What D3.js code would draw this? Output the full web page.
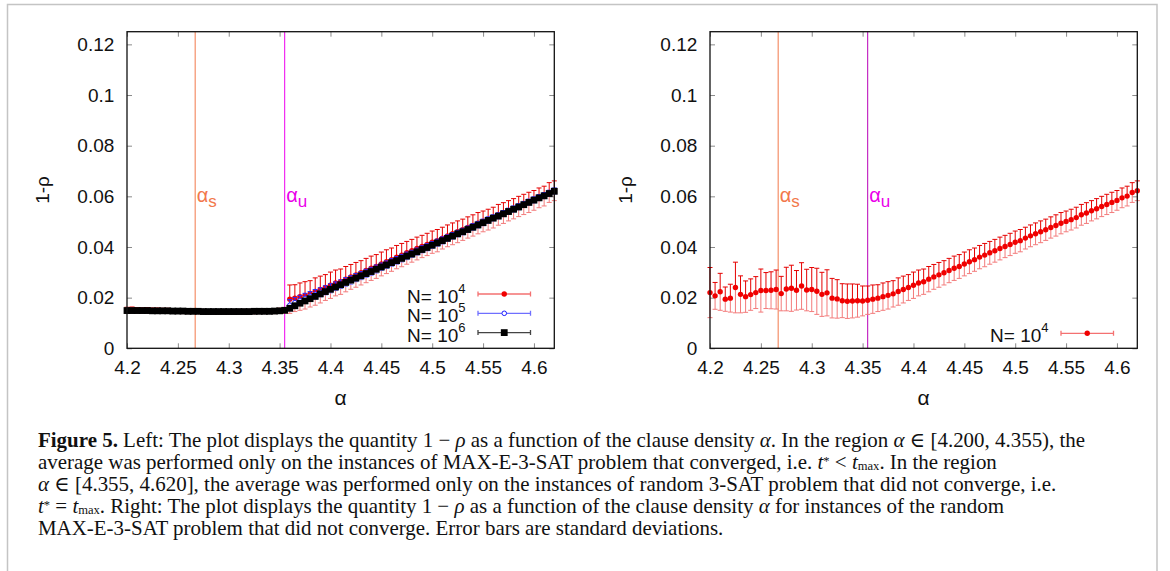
<!DOCTYPE html>
<html>
<head>
<meta charset="utf-8">
<script src="https://cdn.jsdelivr.net/npm/d3@7"></script>
<style>
  body { margin: 0; background: #fff; }
  #wrap { position: relative; width: 1170px; height: 571px; overflow: hidden; }
  svg { position: absolute; left: 0; top: 0; }
  #caption {
    position: absolute; left: 38px; top: 429px;
    font-family: "Liberation Serif", "DejaVu Serif", serif;
    font-size: 17.5px; line-height: 22px; color: #111; white-space: nowrap;
  }
  #caption > div { height: 22px; }
  #caption sup, #caption sub { font-size: 0.6em; line-height: 1; vertical-align: baseline; position: relative; }
  #caption sup { top: -0.3em; }
  #caption sub { top: 0.05em; }
</style>
</head>
<body>
<div id="wrap">
<svg id="chart" width="1170" height="571"></svg>
<div id="caption">
  <div id="cap1"><b>Figure 5.</b> Left: The plot displays the quantity 1 − <i>ρ</i> as a function of the clause density <i>α</i>. In the region <i>α</i> ∈ [4.200, 4.355), the</div>
  <div>average was performed only on the instances of MAX-E-3-SAT problem that converged, i.e. <i>t</i><sup>*</sup> &lt; <i>t</i><sub>max</sub>. In the region</div>
  <div><i>α</i> ∈ [4.355, 4.620], the average was performed only on the instances of random 3-SAT problem that did not converge, i.e.</div>
  <div><i>t</i><sup>*</sup> = <i>t</i><sub>max</sub>. Right: The plot displays the quantity 1 − <i>ρ</i> as a function of the clause density <i>α</i> for instances of the random</div>
  <div>MAX-E-3-SAT problem that did not converge. Error bars are standard deviations.</div>
</div>
</div>
<script>
// clause density grid, step 0.005 from 4.200 to 4.620
const alphaGrid = d3.range(0, 85).map(i => +(4.2 + i * 0.005).toFixed(3));
const alphaS = 4.267;
const alphaU = 4.355;

const xTicks = [4.2, 4.25, 4.3, 4.35, 4.4, 4.45, 4.5, 4.55, 4.6];
const yTicks = [0, 0.02, 0.04, 0.06, 0.08, 0.1, 0.12];

// N=10^4, instances that did not converge (right panel, 4.200 .. 4.620)
const rhoN4NC = [
  0.0220, 0.0207, 0.0223, 0.0194, 0.0198, 0.0240, 0.0213, 0.0204, 0.0212, 0.0220,
  0.0228, 0.0228, 0.0229, 0.0232, 0.0216, 0.0234, 0.0237, 0.0229, 0.0246, 0.0230,
  0.0232, 0.0225, 0.0213, 0.0219, 0.0198, 0.0195, 0.0188, 0.0186, 0.0187, 0.0188,
  0.0187, 0.0190, 0.0194, 0.0198, 0.0204, 0.0209, 0.0215, 0.0224, 0.0232, 0.0240,
  0.0249, 0.0258, 0.0263, 0.0273, 0.0282, 0.0290, 0.0298, 0.0307, 0.0316, 0.0323,
  0.0333, 0.0342, 0.0350, 0.0360, 0.0368, 0.0377, 0.0385, 0.0394, 0.0402, 0.0410,
  0.0419, 0.0425, 0.0435, 0.0444, 0.0452, 0.0460, 0.0468, 0.0477, 0.0485, 0.0494,
  0.0501, 0.0508, 0.0516, 0.0527, 0.0534, 0.0543, 0.0551, 0.0560, 0.0568, 0.0576,
  0.0584, 0.0594, 0.0601, 0.0615, 0.0622
];
const errN4NC = [
  0.0099, 0.0053, 0.0073, 0.0048, 0.0055, 0.0100, 0.0073, 0.0062, 0.0062, 0.0063,
  0.0085, 0.0071, 0.0073, 0.0077, 0.0068, 0.0086, 0.0091, 0.0078, 0.0092, 0.0082,
  0.0087, 0.0091, 0.0087, 0.0091, 0.0078, 0.0076, 0.0067, 0.0068, 0.0067, 0.0065,
  0.0059, 0.0056, 0.0056, 0.0053, 0.0054, 0.0054, 0.0052, 0.0054, 0.0053, 0.0051,
  0.0052, 0.0051, 0.0050, 0.0050, 0.0049, 0.0049, 0.0048, 0.0048, 0.0048, 0.0047,
  0.0047, 0.0047, 0.0046, 0.0046, 0.0046, 0.0045, 0.0045, 0.0045, 0.0044, 0.0044,
  0.0044, 0.0044, 0.0043, 0.0043, 0.0043, 0.0043, 0.0042, 0.0042, 0.0042, 0.0042,
  0.0041, 0.0041, 0.0041, 0.0041, 0.0041, 0.0040, 0.0040, 0.0040, 0.0040, 0.0040,
  0.0039, 0.0039, 0.0039, 0.0039, 0.0039
];

// left panel, converged instances (4.200 .. 4.355)
const rhoN4Conv = [
  0.0150, 0.0151, 0.0150, 0.0149, 0.0150, 0.0149, 0.0149, 0.0148, 0.0148, 0.0147,
  0.0147, 0.0146, 0.0146, 0.0146, 0.0145, 0.0145, 0.0144, 0.0144, 0.0144, 0.0144,
  0.0144, 0.0144, 0.0145, 0.0145, 0.0145, 0.0145, 0.0146, 0.0146, 0.0147, 0.0147,
  0.0148, 0.0150
];
const errN4Conv = [
  0.0012, 0.0012, 0.0011, 0.0011, 0.0011, 0.0010, 0.0010, 0.0010, 0.0010, 0.0009,
  0.0009, 0.0009, 0.0009, 0.0009, 0.0008, 0.0008, 0.0008, 0.0008, 0.0008, 0.0008,
  0.0008, 0.0008, 0.0008, 0.0008, 0.0008, 0.0008, 0.0009, 0.0009, 0.0009, 0.0010,
  0.0010, 0.0011
];
const rhoN5Conv = [
  0.0149, 0.0149, 0.0149, 0.0149, 0.0149, 0.0148, 0.0148, 0.0148, 0.0148, 0.0147,
  0.0147, 0.0147, 0.0146, 0.0146, 0.0146, 0.0145, 0.0145, 0.0145, 0.0145, 0.0145,
  0.0145, 0.0145, 0.0145, 0.0145, 0.0145, 0.0146, 0.0146, 0.0146, 0.0146, 0.0147,
  0.0148, 0.0150
];
const errN5Conv = [
  0.0004, 0.0004, 0.0004, 0.0004, 0.0004, 0.0004, 0.0004, 0.0004, 0.0004, 0.0004,
  0.0003, 0.0003, 0.0003, 0.0003, 0.0003, 0.0003, 0.0003, 0.0003, 0.0003, 0.0003,
  0.0003, 0.0003, 0.0003, 0.0003, 0.0003, 0.0003, 0.0003, 0.0003, 0.0004, 0.0004,
  0.0004, 0.0005
];
const rhoN6Conv = [
  0.0149, 0.0149, 0.0149, 0.0149, 0.0149, 0.0148, 0.0148, 0.0148, 0.0148, 0.0147,
  0.0147, 0.0147, 0.0146, 0.0146, 0.0146, 0.0145, 0.0145, 0.0145, 0.0145, 0.0145,
  0.0145, 0.0145, 0.0145, 0.0145, 0.0145, 0.0146, 0.0146, 0.0146, 0.0146, 0.0147,
  0.0148, 0.0150
];

// left panel, instances that did not converge (4.360 .. 4.620)
const rhoN5NC = [
  0.0170, 0.0180, 0.0189, 0.0197, 0.0205, 0.0213, 0.0221, 0.0229,
  0.0237, 0.0245, 0.0253, 0.0262, 0.0270, 0.0279, 0.0287, 0.0296, 0.0304, 0.0313,
  0.0322, 0.0330, 0.0339, 0.0347, 0.0356, 0.0365, 0.0373, 0.0382, 0.0391, 0.0399,
  0.0408, 0.0417, 0.0426, 0.0435, 0.0444, 0.0453, 0.0461, 0.0470, 0.0479, 0.0488,
  0.0497, 0.0506, 0.0515, 0.0523, 0.0532, 0.0541, 0.0550, 0.0559, 0.0568, 0.0577,
  0.0586, 0.0595, 0.0603, 0.0612, 0.0621
];
const errN5NC = [
  0.0022, 0.0021, 0.0020, 0.0020, 0.0019, 0.0019, 0.0018, 0.0018,
  0.0018, 0.0017, 0.0017, 0.0017, 0.0017, 0.0016, 0.0016, 0.0016, 0.0016, 0.0016,
  0.0015, 0.0015, 0.0015, 0.0015, 0.0015, 0.0015, 0.0014, 0.0014, 0.0014, 0.0014,
  0.0014, 0.0014, 0.0014, 0.0013, 0.0013, 0.0013, 0.0013, 0.0013, 0.0013, 0.0013,
  0.0013, 0.0013, 0.0012, 0.0012, 0.0012, 0.0012, 0.0012, 0.0012, 0.0012, 0.0012,
  0.0012, 0.0012, 0.0012, 0.0012, 0.0012
];
const rhoN6NC = [
  0.0158, 0.0168, 0.0178, 0.0187, 0.0196, 0.0205, 0.0215, 0.0224,
  0.0233, 0.0242, 0.0251, 0.0260, 0.0269, 0.0277, 0.0286, 0.0295, 0.0303, 0.0312,
  0.0321, 0.0329, 0.0338, 0.0346, 0.0355, 0.0364, 0.0372, 0.0381, 0.0390, 0.0398,
  0.0407, 0.0416, 0.0425, 0.0434, 0.0443, 0.0452, 0.0460, 0.0469, 0.0478, 0.0487,
  0.0496, 0.0505, 0.0514, 0.0522, 0.0531, 0.0540, 0.0549, 0.0558, 0.0567, 0.0576,
  0.0585, 0.0594, 0.0602, 0.0611, 0.0620
];

const nConv = rhoN4Conv.length; // 32 points up to alpha_u

const rows = (ys, es, offset) => ys.map((v, i) => ({ a: alphaGrid[i + offset], v: v, e: es ? es[i] : 0 }));

const leftSeries = [
  { key: "N4", label: "4", data: rows(rhoN4Conv, errN4Conv, 0).concat(rows(rhoN4NC.slice(nConv), errN4NC.slice(nConv), nConv)) },
  { key: "N5", label: "5", data: rows(rhoN5Conv, errN5Conv, 0).concat(rows(rhoN5NC, errN5NC, nConv)) },
  { key: "N6", label: "6", data: rows(rhoN6Conv, null, 0).concat(rows(rhoN6NC, null, nConv)) }
];
const rightSeries = [
  { key: "N4", label: "4", data: rows(rhoN4NC, errN4NC, 0) }
];

const font = '"Liberation Sans", Arial, Helvetica, sans-serif';
const svg = d3.select("#chart");

const drawPanel = (x0, series, legendX, legendY, uColor) => {
  const x = d3.scaleLinear().domain([4.2, 4.62]).range([x0, x0 + 427.3]);
  const y = d3.scaleLinear().domain([0, 0.125]).range([348.3, 31.7]);
  const g = svg.append("g");

  // axes with inward ticks, mirrored
  const axB = g.append("g").attr("transform", `translate(0,${y(0)})`)
    .call(d3.axisBottom(x).tickValues(xTicks).tickFormat(d => d).tickSize(-5).tickPadding(12));
  const axT = g.append("g").attr("transform", `translate(0,${y(0.125)})`)
    .call(d3.axisTop(x).tickValues(xTicks).tickFormat("").tickSize(-5));
  const axL = g.append("g").attr("transform", `translate(${x(4.2)},0)`)
    .call(d3.axisLeft(y).tickValues(yTicks).tickFormat(d => d).tickSize(-5).tickPadding(12.7));
  const axR = g.append("g").attr("transform", `translate(${x(4.62)},0)`)
    .call(d3.axisRight(y).tickValues(yTicks).tickFormat("").tickSize(-5));
  [axB, axT, axL, axR].forEach(a => {
    a.select(".domain").remove();
    a.selectAll(".tick line").attr("stroke", "#8a8a8a");
    a.selectAll("text").attr("font-family", font).attr("font-size", 19).attr("fill", "#111");
  });

  // axis titles
  g.append("text")
    .attr("x", (x(4.2) + x(4.62)) / 2).attr("y", 405)
    .attr("text-anchor", "middle").attr("font-family", font).attr("font-size", 21).attr("fill", "#111")
    .text("α");
  g.append("text")
    .attr("transform", `translate(${x(4.2) - 78},${y(0.0625)}) rotate(-90)`)
    .attr("text-anchor", "middle").attr("font-family", font).attr("font-size", 19).attr("fill", "#111")
    .text("1-ρ");

  // threshold lines
  const marks = [
    { a: alphaS, sub: "s", color: "#f2784b", text: "#f2784b" },
    { a: alphaU, sub: "u", color: uColor, text: "#ea00ea" }
  ];
  marks.forEach(m => {
    g.append("line")
      .attr("x1", x(m.a)).attr("x2", x(m.a)).attr("y1", y(0)).attr("y2", y(0.125))
      .attr("stroke", m.color).attr("stroke-width", 1);
    const t = g.append("text")
      .attr("x", x(m.a) + 1.5).attr("y", 202)
      .attr("font-family", font).attr("font-size", 20).attr("fill", m.text);
    t.append("tspan").text("α");
    t.append("tspan").attr("dy", 5).attr("font-size", 17).text(m.sub);
  });

  const styles = {
    N4: { bar: "#e50000", barLow: "#f37b7b", legLine: "#f47171" },
    N5: { bar: "#2a2aff", barLow: "#7a7aff", legLine: "#6f6fff" },
    N6: { bar: "#111", barLow: "#444", legLine: "#444" }
  };

  series.forEach(s => {
    const st = styles[s.key];
    const sg = g.append("g");
    const withErr = s.data.filter(d => d.e > 0);
    // error bars: upper half then lower half
    sg.selectAll(".up").data(withErr).join("path")
      .attr("class", "up")
      .attr("d", d => `M${x(d.a)},${y(d.v)}V${y(d.v + d.e)}M${x(d.a) - 2.5},${y(d.v + d.e)}H${x(d.a) + 2.5}`)
      .attr("stroke", st.bar).attr("stroke-width", 1).attr("fill", "none");
    sg.selectAll(".lo").data(withErr).join("path")
      .attr("class", "lo")
      .attr("d", d => `M${x(d.a)},${y(d.v)}V${y(d.v - d.e)}M${x(d.a) - 2.5},${y(d.v - d.e)}H${x(d.a) + 2.5}`)
      .attr("stroke", st.barLow).attr("stroke-width", 1).attr("fill", "none");
    drawMarker(sg, s.key, s.data.map(d => [x(d.a), y(d.v)]));
  });

  // legend
  series.forEach((s, i) => {
    const st = styles[s.key];
    const cy = legendY + i * 19.3;
    const t = g.append("text")
      .attr("x", legendX).attr("y", cy + 9)
      .attr("text-anchor", "end").attr("font-family", font).attr("font-size", 19).attr("fill", "#111");
    t.append("tspan").text("N= 10");
    t.append("tspan").attr("dy", -10).attr("font-size", 13).text(s.label);
    const lx1 = legendX + 12.5, lx2 = legendX + 65;
    g.append("path")
      .attr("d", `M${lx1},${cy}H${lx2}M${lx1},${cy - 2.5}V${cy + 2.5}M${lx2},${cy - 2.5}V${cy + 2.5}`)
      .attr("stroke", st.legLine).attr("stroke-width", 1.3).attr("fill", "none");
    drawMarker(g, s.key, [[(lx1 + lx2) / 2, cy]]);
  });

  // frame
  g.append("rect")
    .attr("x", x(4.2)).attr("y", y(0.125))
    .attr("width", x(4.62) - x(4.2)).attr("height", y(0) - y(0.125))
    .attr("fill", "none").attr("stroke", "#111").attr("stroke-width", 1.3);
};

function drawMarker(sel, key, pts) {
  if (key === "N4") {
    sel.selectAll(null).data(pts).join("circle")
      .attr("cx", d => d[0]).attr("cy", d => d[1]).attr("r", 2.7).attr("fill", "#f00000");
  } else if (key === "N5") {
    sel.selectAll(null).data(pts).join("circle")
      .attr("cx", d => d[0]).attr("cy", d => d[1]).attr("r", 2.3)
      .attr("fill", "#fff").attr("stroke", "#1c1cff").attr("stroke-width", 1);
  } else {
    sel.selectAll(null).data(pts).join("rect")
      .attr("x", d => d[0] - 3.4).attr("y", d => d[1] - 3.4).attr("width", 6.8).attr("height", 6.8).attr("fill", "#000");
  }
}

// figure border
svg.append("path")
  .attr("d", "M7.5,600V4.5H1157V600")
  .attr("fill", "none").attr("stroke", "#c4c4c4").attr("stroke-width", 1.5);

drawPanel(127, leftSeries, 465.5, 294, "#ee00ee");
drawPanel(710, rightSeries, 1048.5, 333.3, "#b800b8");

// fit the caption's first line to the figure width
const cap1 = document.getElementById("cap1");
const w = cap1.getBoundingClientRect().width;
const cap = document.getElementById("caption");
cap.style.fontSize = (17.5 * 1048 / w).toFixed(2) + "px";
</script>
</body>
</html>
